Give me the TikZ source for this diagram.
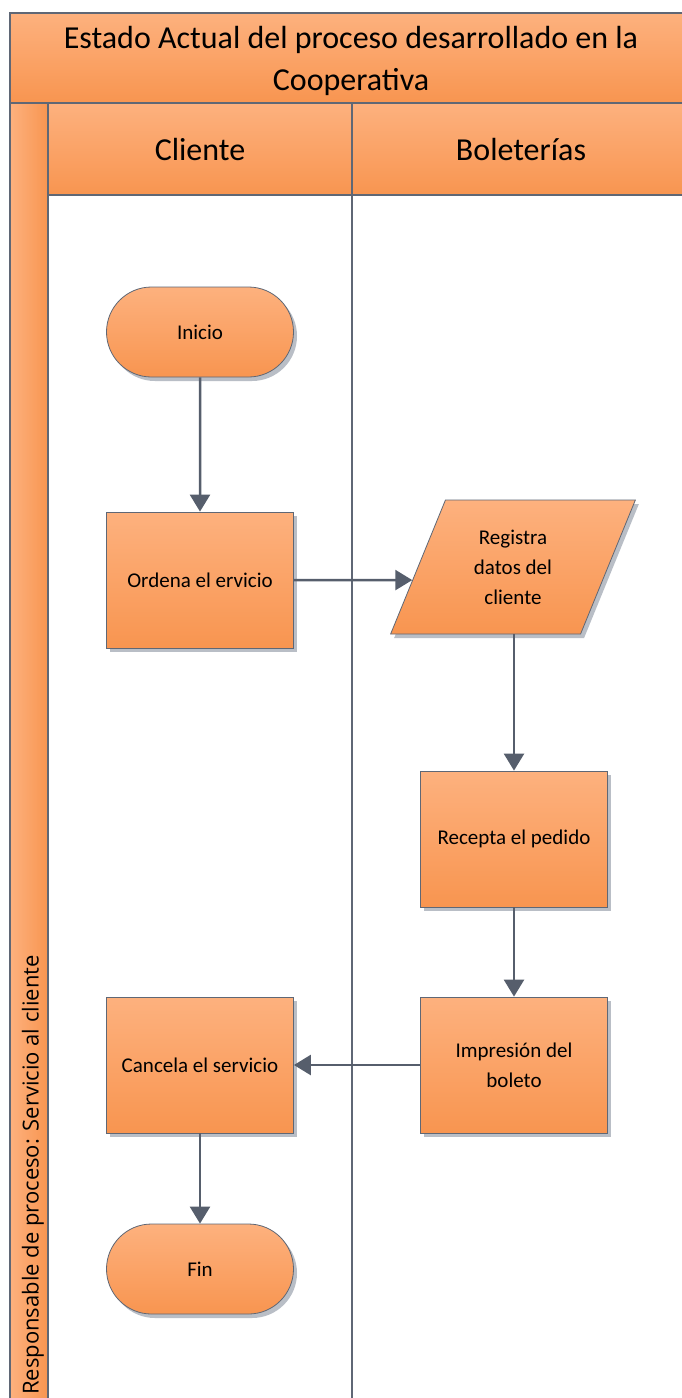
\documentclass[tikz,border=0pt]{standalone}
\usepackage{fontspec}
\setmainfont{Carlito}
\newfontfamily\stripfont{Open Sans}
\usetikzlibrary{shapes.geometric,shapes.misc,shadows,arrows.meta,calc}
\definecolor{orTop}{RGB}{253,177,126}
\definecolor{orBot}{RGB}{248,149,80}
\definecolor{frameGray}{RGB}{95,103,117}
\definecolor{arrowGray}{RGB}{86,94,108}
\definecolor{shadowGray}{RGB}{185,190,198}
\tikzset{
  band/.style={draw=frameGray, line width=2pt, top color=orTop, bottom color=orBot},
  boxshade/.style={draw=frameGray, line width=0.8pt, top color=orTop, bottom color=orBot,
     drop shadow={shadow xshift=3.5pt, shadow yshift=-4pt, opacity=1, fill=shadowGray},
     font=\fontsize{21}{30}\selectfont, align=center, inner sep=0pt},
  procbox/.style={boxshade, rectangle, minimum width=187pt, minimum height=136pt},
  termbox/.style={boxshade, rounded rectangle, minimum width=187pt, minimum height=90pt},
  iobox/.style={boxshade, trapezium, trapezium left angle=67, trapezium right angle=113,
     trapezium stretches=true, minimum width=245pt, minimum height=134pt},
  flow/.style={draw=arrowGray, line width=2.5pt, -{Triangle[length=17pt,width=20pt]}},
}
\begin{document}
\begin{tikzpicture}[x=1pt,y=-1pt]
\useasboundingbox (0,0) rectangle (682,1398);
\clip (0,0) rectangle (682,1398);
% lanes body
\fill[white] (48,195) rectangle (700,1410);
% title band
\path[band] (10,13) rectangle (700,103);
\node[font=\fontsize{32}{42}\selectfont, align=center] (title) at (351,61) {Estado Actual del proceso desarrollado en la\\Cooperativa};
% strip
\path[draw=frameGray, line width=2pt, left color=orTop, right color=orBot] (10,103) rectangle (48,1410);
\node[font=\stripfont\fontsize{22}{24}\selectfont, rotate=90, anchor=west, inner sep=0pt] (resp) at (33,1395) {Responsable de proceso: Servicio al cliente};
% lane headers
\path[band] (48,103) rectangle (352,195);
\path[band] (352,103) rectangle (700,195);
\node[font=\fontsize{32}{38}\selectfont] (cliente) at (200,150) {Cliente};
\node[font=\fontsize{32}{38}\selectfont] (bolet) at (521,150) {Boleterías};
% divider
\draw[frameGray, line width=2pt] (352,195) -- (352,1410);
\draw[frameGray, line width=2pt] (48,195) -- (48,1410);
% nodes
\node[termbox] (inicio) at (200,332) {Inicio};
\node[procbox] (ordena) at (200,580) {Ordena el ervicio};
\node[iobox] (registra) at (513,567) {Registra\\datos del\\cliente};
\node[procbox] (recepta) at (514,839) {Recepta el pedido};
\node[procbox] (impresion) at (514,1065) {Impresión del\\boleto};
\node[procbox] (cancela) at (200,1065) {Cancela el servicio};
\node[termbox] (fin) at (200,1269) {Fin};
\coordinate (regin) at ($(registra.bottom left corner)!0.403!(registra.top left corner)$);
% connectors
\draw[flow] (inicio) -- (ordena);
\draw[flow] (ordena.east) -- (regin);
\draw[flow] (registra.south -| recepta) -- (recepta);
\draw[flow] (recepta) -- (impresion);
\draw[flow] (impresion) -- (cancela);
\draw[flow] (cancela) -- (fin);
\end{tikzpicture}
\end{document}
